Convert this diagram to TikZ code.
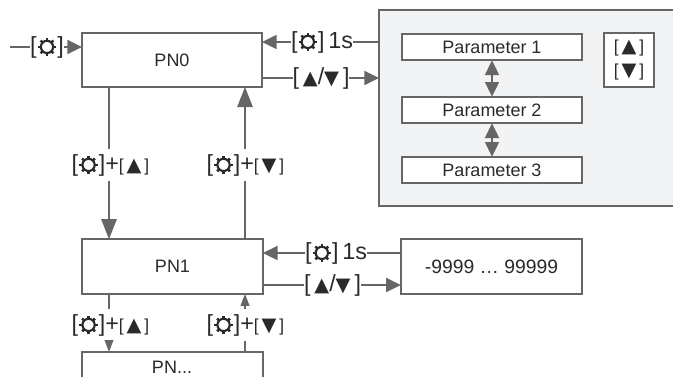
\documentclass[tikz,border=0pt]{standalone}
\usepackage{fontspec}
\setmainfont{Liberation Sans}
\newfontfamily\symfont{DejaVu Sans}
\usetikzlibrary{arrows.meta}
\definecolor{ln}{HTML}{666666}
\definecolor{panel}{HTML}{F2F3F5}
\definecolor{ink}{HTML}{2A2A2A}
\newcommand\tup{{\symfont\fontsize{14.5pt}{14.5pt}\selectfont ▲}}
\newcommand\tdn{{\symfont\fontsize{14.5pt}{14.5pt}\selectfont ▼}}
\newcommand\gearicon{\tikz[baseline=-4.6pt,x=1pt,y=1pt]{%
  \draw[ink,line width=1.6pt] (0,0) circle (4.6pt);
  \foreach \a in {0,45,...,315}{\draw[ink,line width=1.9pt] (\a:4.8pt) -- (\a:6.8pt);}}}
\newcommand\lgs{\fontsize{17.5pt}{17.5pt}\selectfont}
\newcommand\mds{\fontsize{13pt}{13pt}\selectfont}
\newcommand\gearb{{\lgs[\gearicon]}}
\tikzset{
  x=0.75pt,y=-0.75pt,
  boxn/.style={draw=ln,line width=1.35pt,fill=white,inner sep=0pt,outer sep=0pt,text=ink,font=\fontsize{13.5pt}{15pt}\selectfont},
  lab/.style={inner sep=0pt,outer sep=0pt,text=ink,minimum height=24pt,align=center},
  conn/.style={draw=ln,line width=1.2pt},
  bigarr/.style={conn,-{Triangle[length=11pt,width=10.5pt]}},
  tallarr/.style={conn,-{Triangle[length=15pt,width=11.5pt]}},
  tinyarr/.style={conn,-{Triangle[length=9pt,width=6.5pt]}},
  dbl/.style={conn,{Triangle[length=11pt,width=10.5pt]}-{Triangle[length=11pt,width=10.5pt]}}
}
\begin{document}
\begin{tikzpicture}
\useasboundingbox (0,0) rectangle (673,376);
\clip (0,0) rectangle (673,376);
% boxes
\node[boxn,minimum width=135pt,minimum height=40.5pt] (pn0) at (172,60) {PN0};
\node[boxn,minimum width=135.5pt,minimum height=41pt] (pn1) at (172.5,266.5) {PN1};
\node[boxn,minimum width=135.5pt,minimum height=45pt] (pnx) at (172.5,382) {};
\node[text=ink,inner sep=0pt,font=\fontsize{13.5pt}{15pt}\selectfont] (pnxt) at (172,367) {PN...};
\node[boxn,fill=panel,minimum width=240pt,minimum height=147pt] (panel) at (539,108) {};
\node[boxn,minimum width=135pt,minimum height=20pt] (p1) at (492,47) {Parameter 1};
\node[boxn,minimum width=135pt,minimum height=20pt] (p2) at (492,110) {Parameter 2};
\node[boxn,minimum width=135pt,minimum height=20pt] (p3) at (492,170) {Parameter 3};
\node[boxn,minimum width=37.5pt,minimum height=41pt,align=center,font=\fontsize{13pt}{17.5pt}\selectfont] (keys) at (629,60) {{[}\,\tup\,]\\{[}\,\tdn\,]};
\node[boxn,minimum width=136pt,minimum height=41pt,font=\fontsize{14.5pt}{16pt}\selectfont] (val) at (491.5,266.5) {-9999 … 99999};
% labels
\node[lab] (l0) at (47,47) {\gearb};
\node[lab] (l1) at (322,42) {\gearb\ {\lgs 1s}};
\node[lab] (l2) at (321,78) {{\lgs[\,}\tup{\lgs/}\tdn{\lgs\,]}};
\node[lab] (l3) at (336,253) {\gearb\ {\lgs 1s}};
\node[lab] (l4) at (332.5,285) {{\lgs[\,}\tup{\lgs/}\tdn{\lgs\,]}};
\node[lab] (a1) at (110.5,165) {\gearb{\lgs+}{\mds[\,\tup\,]}};
\node[lab] (a2) at (245.5,165) {\gearb{\lgs+}{\mds[\,\tdn\,]}};
\node[lab] (a3) at (110.5,325) {\gearb{\lgs+}{\mds[\,\tup\,]}};
\node[lab] (a4) at (245.5,325) {\gearb{\lgs+}{\mds[\,\tdn\,]}};
% anchor coordinates
\coordinate (start) at (10,47);
\coordinate (xl) at (109,0);
\coordinate (xr) at (245,0);
\coordinate (y1) at (0,42);
\coordinate (y2) at (0,78);
\coordinate (y3) at (0,253);
\coordinate (y4) at (0,285);
% connectors
\draw[conn] (start) -- (l0.west);
\draw[bigarr] (l0.east) -- (l0.east -| pn0.west);
\draw[conn] (panel.west |- y1) -- (l1.east |- y1);
\draw[bigarr] (l1.west |- y1) -- (pn0.east |- y1);
\draw[conn] (pn0.east |- y2) -- (l2.west |- y2);
\draw[bigarr] (l2.east |- y2) -- (panel.west |- y2);
\draw[conn] (val.west |- y3) -- (l3.east |- y3);
\draw[bigarr] (l3.west |- y3) -- (pn1.east |- y3);
\draw[conn] (pn1.east |- y4) -- (l4.west |- y4);
\draw[bigarr] (l4.east |- y4) -- (val.west |- y4);
\draw[conn] (xl |- pn0.south) -- (xl |- a1.north);
\draw[tallarr] (xl |- a1.south) -- (xl |- pn1.north);
\draw[conn] (xr |- pn1.north) -- (xr |- a2.south);
\draw[tallarr] (xr |- a2.north) -- (xr |- pn0.south);
\draw[conn] (xl |- pn1.south) -- (xl |- a3.north);
\draw[tinyarr] (xl |- a3.south) -- (xl |- pnx.north);
\draw[conn] (xr |- pnx.north) -- (xr |- a4.south);
\draw[tinyarr] (xr |- a4.north) -- (xr |- pn1.south);
\draw[dbl] (p1.south) -- (p2.north);
\draw[dbl] (p2.south) -- (p3.north);
\end{tikzpicture}
\end{document}
